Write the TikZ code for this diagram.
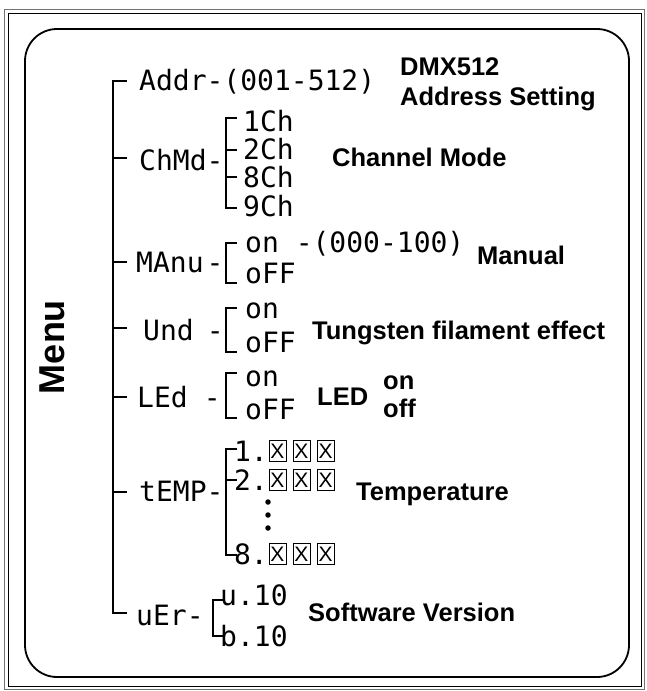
\documentclass[tikz,border=0pt]{standalone}
\usepackage{fontspec}
\setmainfont{Liberation Sans}
\newfontfamily\segfont{DejaVu Sans Mono}
\begin{document}
\begin{tikzpicture}[x=1pt,y=-1pt,
  seg/.style={font=\segfont\fontsize{28}{28}\selectfont, inner sep=0pt, text height=20.4pt, text depth=0pt, anchor=west},
  segr/.style={seg, anchor=east},
  lbl/.style={font=\fontsize{25.5}{25.5}\selectfont\bfseries, inner sep=0pt, anchor=base west},
  tree/.style={line width=2.2pt, line cap=rect},
  xbox/.style={draw, line width=1pt, minimum width=17pt, minimum height=21pt, inner sep=0pt, font=\fontsize{21}{21}\selectfont},
  tdot/.style={fill, circle, inner sep=0pt, minimum size=5.5pt}]
\useasboundingbox (0,0) rectangle (646,691);
% frames
\draw[line width=1pt, black!55] (4.7,9.3) rectangle (644.7,689.7);
\draw[line width=0.9pt] (8,13.3) rectangle (641,686);
\draw[line width=1.8pt, rounded corners=32pt] (25,29) rectangle (629,677);
% Menu
\node[font=\fontsize{36}{36}\selectfont\bfseries, rotate=90, inner sep=0pt] (menu) at (52.5,347) {Menu};
% spine
\coordinate (s1) at (113,81);
\coordinate (s2) at (113,158);
\coordinate (s3) at (113,262);
\coordinate (s4) at (113,328);
\coordinate (s5) at (113,397);
\coordinate (s6) at (113,492);
\coordinate (s7) at (113,613);
\draw[tree] (s1) -- (s7);
\foreach \i in {1,...,7} \draw[tree] (s\i) -- ++(13,0);
% level 1 labels
\node[seg] (addr) at (139,80) {Addr-(001-512)};
\node[seg] (chmd) at (139,160) {ChMd-};
\node[seg] (manu) at (136,262) {MAnu\kern3pt-};
\node[seg] (und) at (143,330) {Und\kern13pt-};
\node[seg] (led) at (137,397) {LEd\kern16pt-};
\node[seg] (temp) at (139,491) {tEMP-};
\node[seg] (ver) at (136,615) {uEr-};
% ChMd bracket
\draw[tree] (236,118) -- (226,118) -- (226,208) -- (236,208);
\draw[tree] (226,150) -- ++(10,0);
\draw[tree] (226,177) -- ++(10,0);
\node[seg] (c1) at (243,121) {1Ch};
\node[seg] (c2) at (243,149) {2Ch};
\node[seg] (c8) at (243,177) {8Ch};
\node[seg] (c9) at (243,206) {9Ch};
% MAnu bracket
\draw[tree] (236,243) -- (226,243) -- (226,283) -- (236,283);
\node[seg] (mon) at (245,242) {on -(000-100)};
\node[seg] (moff) at (245,273) {oFF};
% Und bracket
\draw[tree] (236,308) -- (226,308) -- (226,352) -- (236,352);
\node[seg] (uon) at (245,308) {on};
\node[seg] (uoff) at (245,342) {oFF};
% LEd bracket
\draw[tree] (236,373) -- (226,373) -- (226,418) -- (236,418);
\node[seg] (lon) at (245,376) {on};
\node[seg] (loff) at (245,409) {oFF};
% tEMP bracket
\draw[tree] (236,449) -- (226,449) -- (226,555) -- (236,555);
\draw[tree] (226,480) -- ++(10,0);
\node[segr] (t1) at (268,451) {1.};
\node[segr] (t2) at (268,480) {2.};
\node[segr] (t8) at (268,554) {8.};
\foreach \r/\yy in {1/451,2/480,8/554}{
  \node[xbox] (b\r a) at (277.5,\yy) {X};
  \node[xbox] (b\r b) at (301.5,\yy) {X};
  \node[xbox] (b\r c) at (325.5,\yy) {X};
}
\node[tdot] (d1) at (268,502) {};
\node[tdot] (d2) at (268,515) {};
\node[tdot] (d3) at (268,528) {};
% uEr bracket
\draw[tree] (223,600) -- (213,600) -- (213,636) -- (223,636);
\node[seg] (v1) at (220,595) {u.10};
\node[seg] (v2) at (220,636) {b.10};
% bold labels
\node[lbl] (dmx) at (400,75) {DMX512};
\node[lbl] (adr) at (400,105) {Address Setting};
\node[lbl] (chl) at (332,166) {Channel Mode};
\node[lbl] (man) at (477,264) {Manual};
\node[lbl] (tung) at (312,339) {Tungsten filament effect};
\node[lbl] (ledl) at (317,405) {LED};
\node[lbl] (on) at (383,389) {on};
\node[lbl] (off) at (383,417) {off};
\node[lbl] (tmp) at (356,500) {Temperature};
\node[lbl] (sw) at (308,621) {Software Version};
\end{tikzpicture}
\end{document}
